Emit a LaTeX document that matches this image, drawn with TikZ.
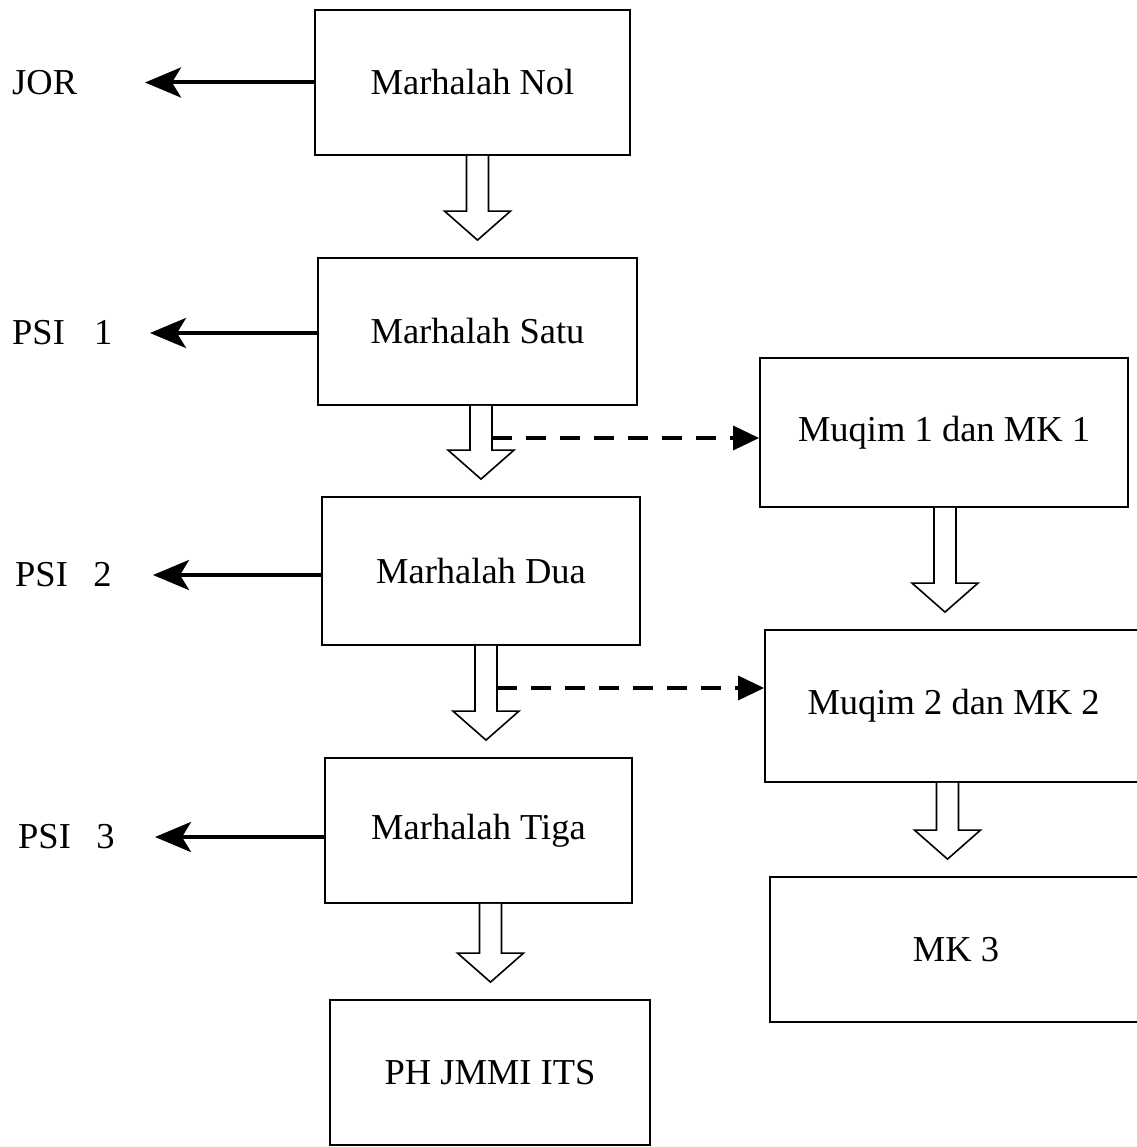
\documentclass[tikz,border=0pt]{standalone}
\usepackage{fontspec}
\setmainfont{Liberation Serif}
\usetikzlibrary{arrows.meta,calc}
\tikzset{
  box/.style={draw, line width=1.8pt, minimum width=#1, inner sep=0pt},
  hollow/.style={draw, line width=1.6pt, fill=white},
  larrow/.style={line width=4pt, -{Stealth[length=36pt,width=30pt,inset=9pt]}},
  darrow/.style={line width=3.5pt, dash pattern=on 20pt off 14pt, -{Triangle[length=26pt,width=24pt]}},
  lbl/.style={anchor=west, inner sep=0pt},
}
\newcommand{\harrow}[3]{%
  \draw[hollow] let \p1=(#1.south), \p2=(#2.north) in
    (\x1+#3-11pt,\y1) -- (\x1+#3-11pt,\y2+46pt) -- (\x1+#3-33pt,\y2+46pt)
    -- (\x1+#3,\y2+17pt) -- (\x1+#3+33pt,\y2+46pt) -- (\x1+#3+11pt,\y2+46pt)
    -- (\x1+#3+11pt,\y1);}
\begin{document}
\begin{tikzpicture}[x=1pt,y=-1pt,font=\fontsize{36.5}{40}\selectfont]
\useasboundingbox (0,0) rectangle (1136,1147);
% main column
\node[box=315pt, minimum height=145pt] (nol)  at (472.5,82.5)  {Marhalah Nol};
\node[box=319pt, minimum height=147pt] (satu) at (477.5,331.5) {Marhalah Satu};
\node[box=318pt, minimum height=148pt] (dua)  at (481,571)     {Marhalah Dua};
\node[box=307pt, minimum height=145pt] (tiga) at (478.5,830.5) {Marhalah Tiga};
\node[box=320pt, minimum height=145pt] (ph)   at (490,1072.5)  {PH JMMI ITS};
% right column
\node[box=368pt, minimum height=149pt] (m1) at (944,432.5)  {Muqim 1 dan MK 1};
\node[box=377pt, minimum height=152pt] (m2) at (953.5,706)  {Muqim 2 dan MK 2};
\node[box=372pt, minimum height=145pt] (mk3) at (956,949.5) {MK 3};
% left labels
\node[lbl] (jor)  at (12,83)  {JOR};
\node[lbl] (psi1) at (12,333) {PSI\hspace{0.8em}1};
\node[lbl] (psi2) at (15,575) {PSI\hspace{0.7em}2};
\node[lbl] (psi3) at (18,837) {PSI\hspace{0.7em}3};
\coordinate (t0) at (145,82.5);
\coordinate (t1) at (150,333);
\coordinate (t2) at (153,575);
\coordinate (t3) at (155,837);
\draw[larrow] (nol.west) -- (t0);
\draw[larrow] (satu.west |- t1) -- (t1);
\draw[larrow] (dua.west |- t2) -- (t2);
\draw[larrow] (tiga.west |- t3) -- (t3);
% hollow arrows
\harrow{nol}{satu}{5pt}
\harrow{satu}{dua}{3.5pt}
\harrow{dua}{tiga}{5pt}
\harrow{tiga}{ph}{12pt}
\harrow{m1}{m2}{1pt}
\harrow{m2}{mk3}{-6pt}
% dashed arrows
\coordinate (d1) at (492,438);
\coordinate (d2) at (497,688);
\draw[darrow] (d1) -- (d1 -| m1.west);
\draw[darrow] (d2) -- (d2 -| m2.west);
\end{tikzpicture}
\end{document}
